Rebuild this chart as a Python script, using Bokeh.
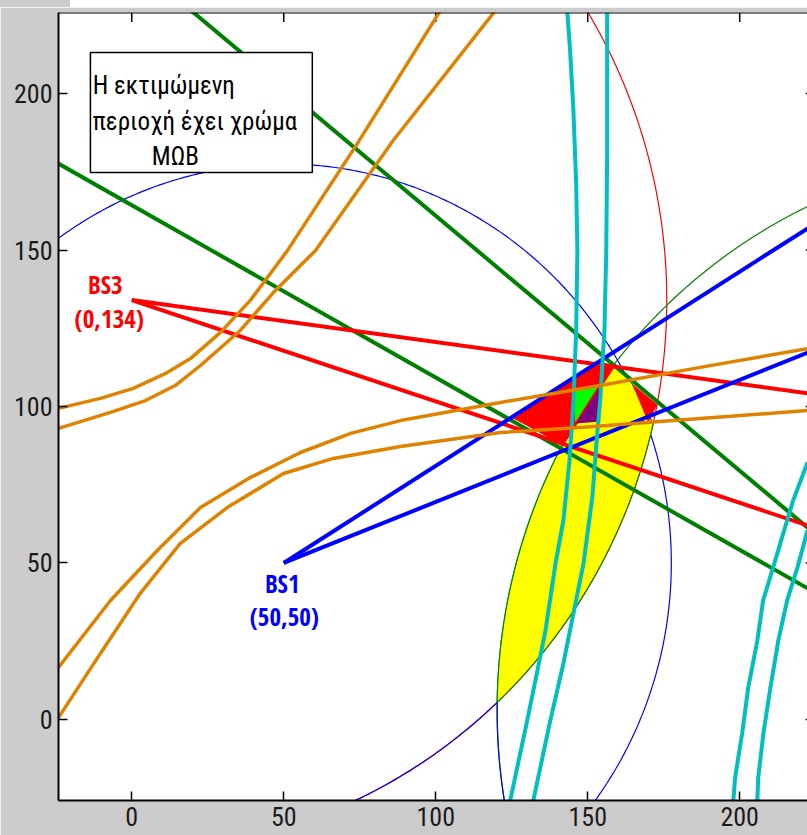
import numpy as np
from bokeh.plotting import figure
from bokeh.models import Range1d, FixedTicker, Span, Div, Column
from bokeh.embed import file_html
from bokeh.resources import INLINE
from bokeh.core.properties import value

FONT = "Roboto Condensed"
BOLD_FONT = "Open Sans Condensed"

# ---------------- data ----------------
x_ticks = [0, 50, 100, 150, 200]
y_ticks = [0, 50, 100, 150, 200]
tick_labels = ["0", "50", "100", "150", "200"]

# base stations (BS2 lies off the chart, to the right)
bs1 = (50, 50)
bs3 = (0, 134)
bs2 = (298, 3)
r_bs1 = 127.5
r_bs3 = 176.0
r_bs2 = 177.8

# angle-of-arrival bound lines
blue_end_x = [222.3, 222.3]
blue_end_y = [156.9, 117.2]
red_end_x = [222.3, 222.3]
red_end_y = [104.2, 62.0]
green_start_x = [20.3, -24.1]
green_start_y = [225.9, 177.6]
green_end_x = [222.3, 222.3]
green_end_y = [61.3, 41.9]

# hyperbola branches (cyan)
cyan1_x = [143.3, 144.2, 145.3, 146.2, 146.6, 146.2, 145.3, 144.0, 142.0, 139.4, 136.1, 132.8, 130.1, 124.5]
cyan1_y = [225.9, 213.7, 194.6, 171.2, 149.8, 124.3, 101.9, 82.7, 63.6, 49.8, 28.4, 12.5, -0.3, -25.9]
cyan2_x = [156.4, 156.4, 156.1, 155.5, 154.1, 153.2, 151.5, 148.6, 145.3, 142.0, 137.7, 132.1]
cyan2_y = [225.9, 181.8, 149.8, 124.3, 101.9, 92.3, 70.9, 49.8, 33.9, 17.9, -0.3, -25.9]
cyan3_x = [222.3, 217.6, 214.3, 211.0, 207.7, 205.8, 202.8, 200.8, 198.5, 197.9]
cyan3_y = [82.1, 70.0, 59.4, 48.6, 38.0, 25.2, 10.2, -4.5, -18.5, -25.9]
cyan4_x = [222.3, 219.0, 215.6, 212.7, 210.1, 207.8, 206.1, 205.8]
cyan4_y = [60.4, 48.6, 38.0, 25.2, 10.2, -4.5, -18.5, -25.9]

# hyperbola branches (orange)
orange1_x = [-24.1, -10.3, 0.5, 11.0, 19.3, 29.1, 39.0, 51.2, 74.2, 100.5, 101.5]
orange1_y = [99.4, 102.6, 105.8, 110.5, 115.3, 123.6, 133.9, 149.8, 184.0, 224.9, 226.5]
orange2_x = [-24.1, -7.0, 4.5, 14.3, 22.6, 35.7, 46.6, 60.4, 86.0, 119.6]
orange2_y = [93.0, 98.1, 101.9, 106.7, 113.1, 124.3, 136.4, 149.8, 185.0, 226.5]
orange3_x = [-24.1, -7.0, 8.4, 22.6, 39.0, 55.5, 72.0, 88.4, 121.3, 154.1, 187.0, 222.3]
orange3_y = [16.6, 38.0, 54.0, 67.7, 77.3, 85.3, 91.4, 95.5, 101.3, 106.7, 112.5, 118.5]
orange4_x = [-24.1, -10.3, 2.8, 15.9, 31.4, 49.9, 66.3, 88.4, 121.3, 147.6, 187.0, 222.3]
orange4_y = [0.6, 21.1, 40.3, 56.2, 67.7, 78.6, 83.4, 87.2, 91.7, 93.3, 96.2, 98.7]

# shaded regions
yellow_top = (159.4, 113.1)
yellow_mid = (164.6, 107.3)
yellow_right = (169.9, 94.9)
red_left_x = [125.5, 152.8, 159.4, 142.0]
red_left_y = [96.2, 114.1, 113.4, 87.5]
red_right_x = [164.6, 172.9, 169.9]
red_right_y = [107.3, 100.6, 94.9]
green_tri_x = [145.3, 153.2, 145.9]
green_tri_y = [105.4, 106.1, 94.9]
purple_x = [146.2, 153.8, 154.1]
purple_y = [94.6, 105.8, 95.2]

note_lines = ["Η εκτιμώμενη", "περιοχή έχει χρώμα", "ΜΩΒ"]
bs3_labels = ["BS3", "(0,134)"]
bs1_labels = ["BS1", "(50,50)"]

# ---------------- style ----------------
BLUE = "#0000ff"
RED = "#ff0000"
DGREEN = "#008000"
CYAN = "#00bfbf"
ORANGE = "#de8200"
THICK = 4

X0, X1, Y0, Y1 = -24.1, 222.3, -25.9, 225.9


def circle_pts(c, r, a0, a1, n=400):
    t = np.linspace(np.radians(a0), np.radians(a1), n)
    return c[0] + r * np.cos(t), c[1] + r * np.sin(t)


def ang(c, q):
    return np.degrees(np.arctan2(q[1] - c[1], q[0] - c[0]))


# lower intersection of the BS3 and BS2 range circles (tip of the lens)
d = np.hypot(bs2[0] - bs3[0], bs2[1] - bs3[1])
ux, uy = (bs2[0] - bs3[0]) / d, (bs2[1] - bs3[1]) / d
a = (r_bs3 ** 2 - r_bs2 ** 2 + d ** 2) / (2 * d)
h = np.sqrt(r_bs3 ** 2 - a ** 2)
mx, my = bs3[0] + a * ux, bs3[1] + a * uy
cands = [(mx - h * uy, my + h * ux), (mx + h * uy, my - h * ux)]
tip = min(cands, key=lambda q: q[1])

p = figure(width=807, height=828, output_backend="svg", toolbar_location=None,
           x_range=Range1d(X0, X1), y_range=Range1d(Y0, Y1),
           min_border_left=58, min_border_right=0, min_border_top=5, min_border_bottom=35)
p.background_fill_color = "white"
p.border_fill_color = "#cccccc"
p.outline_line_color = None
p.grid.visible = False

for ax in (p.xaxis[0], p.yaxis[0]):
    ax.ticker = FixedTicker(ticks=x_ticks)
    ax.major_label_overrides = {t: l for t, l in zip(x_ticks, tick_labels)}
    ax.major_tick_in = 9
    ax.major_tick_out = 0
    ax.minor_tick_line_color = None
    ax.axis_line_width = 2
    ax.axis_line_color = "black"
    ax.major_tick_line_color = "black"
    ax.major_tick_line_width = 1.5
    ax.major_label_text_font = FONT
    ax.major_label_text_font_size = "26px"
    ax.major_label_text_color = "#1a1a1a"
p.xaxis.major_label_standoff = 6
p.yaxis.major_label_standoff = 6

# top border and inward ticks on top / right (box on)
p.add_layout(Span(location=Y1, dimension="width", line_color="black", line_width=2))
p.segment(x0=x_ticks, y0=[Y1] * 5, x1=x_ticks, y1=[Y1 - 3.0] * 5, line_color="black", line_width=1.5)
p.segment(x0=[X1 - 0.6] * 5, y0=y_ticks, x1=[X1] * 5, y1=y_ticks, line_color="black", line_width=1.5)

# thin range circles
cx, cy = circle_pts(bs1, r_bs1, 0, 360, 720)
p.line(cx, cy, line_color=BLUE, line_width=1.2)
cx, cy = circle_pts(bs3, r_bs3, 0, 360, 720)
p.line(cx, cy, line_color=RED, line_width=1.2)
cx, cy = circle_pts(bs2, r_bs2, 0, 360, 720)
p.line(cx, cy, line_color=DGREEN, line_width=1.2)
a_tip3 = ang(bs3, tip)
cx, cy = circle_pts(bs3, r_bs3, a_tip3, -75, 100)
p.line(cx, cy, line_color=BLUE, line_width=1.2)
a_tip2 = ang(bs2, tip)
cx, cy = circle_pts(bs2, r_bs2, a_tip2, 200, 100)
p.line(cx, cy, line_color=BLUE, line_width=1.2)

# shaded regions
rx, ry = circle_pts(bs3, r_bs3, ang(bs3, yellow_right), a_tip3, 80)
gx, gy = circle_pts(bs2, r_bs2, a_tip2 % 360, ang(bs2, yellow_top) % 360, 80)
yx = [yellow_top[0], yellow_mid[0]] + list(rx) + list(gx)
yy = [yellow_top[1], yellow_mid[1]] + list(ry) + list(gy)
p.patch(yx, yy, fill_color="#ffff00", line_color=DGREEN, line_width=1.2)
p.patch(red_left_x, red_left_y, fill_color=RED, line_color=None)
p.patch(red_right_x, red_right_y, fill_color=RED, line_color=None)
p.patch(green_tri_x, green_tri_y, fill_color="#00ff00", line_color=None)
p.patch(purple_x, purple_y, fill_color="#800080", line_color=None)

# thick bearing lines
for i in range(2):
    x0, y0, x1, y1 = green_start_x[i], green_start_y[i], green_end_x[i], green_end_y[i]
    dx, dy = x1 - x0, y1 - y0
    p.line([x0 - 0.2 * dx, x1 + 0.2 * dx], [y0 - 0.2 * dy, y1 + 0.2 * dy],
           line_color=DGREEN, line_width=THICK)
for i in range(2):
    dx, dy = red_end_x[i] - bs3[0], red_end_y[i] - bs3[1]
    p.line([bs3[0], bs3[0] + 1.1 * dx], [bs3[1], bs3[1] + 1.1 * dy], line_color=RED, line_width=THICK)
for i in range(2):
    dx, dy = blue_end_x[i] - bs1[0], blue_end_y[i] - bs1[1]
    p.line([bs1[0], bs1[0] + 1.1 * dx], [bs1[1], bs1[1] + 1.1 * dy], line_color=BLUE, line_width=THICK)

# hyperbolas
for xs, ys in [(cyan1_x, cyan1_y), (cyan2_x, cyan2_y), (cyan3_x, cyan3_y), (cyan4_x, cyan4_y)]:
    p.line(xs, ys, line_color=CYAN, line_width=THICK)
for xs, ys in [(orange1_x, orange1_y), (orange2_x, orange2_y), (orange3_x, orange3_y), (orange4_x, orange4_y)]:
    p.line(xs, ys, line_color=ORANGE, line_width=3.5)

# note box
p.quad(left=[-13.6], right=[59.4], bottom=[174.8], top=[213.1],
       fill_color="white", line_color="black", line_width=1.5)
p.text(x=[-12.8, -12.8, 6.6], y=[202.6, 191.1, 179.8], text=note_lines,
       text_font=value(FONT), text_font_size="25px", text_color="black",
       text_align="left", text_baseline="alphabetic")

# station labels
p.text(x=[-8.7, -7.4], y=[139.0, 128.4], text=bs3_labels,
       text_font=value(BOLD_FONT), text_font_size="25px", text_font_style="bold",
       text_color=RED, text_align="center", text_baseline="middle")
p.text(x=[49.5, 50.2], y=[43.5, 32.9], text=bs1_labels,
       text_font=value(BOLD_FONT), text_font_size="25px", text_font_style="bold",
       text_color=BLUE, text_align="center", text_baseline="middle")

strip = Div(text="", width=807, height=7, margin=0,
            styles={"background": "linear-gradient(to right, #cccccc 70px, #ffffff 70px)"})
layout = Column(children=[strip, p], spacing=0, margin=0)
open("out.html", "w").write(file_html(layout, INLINE))
